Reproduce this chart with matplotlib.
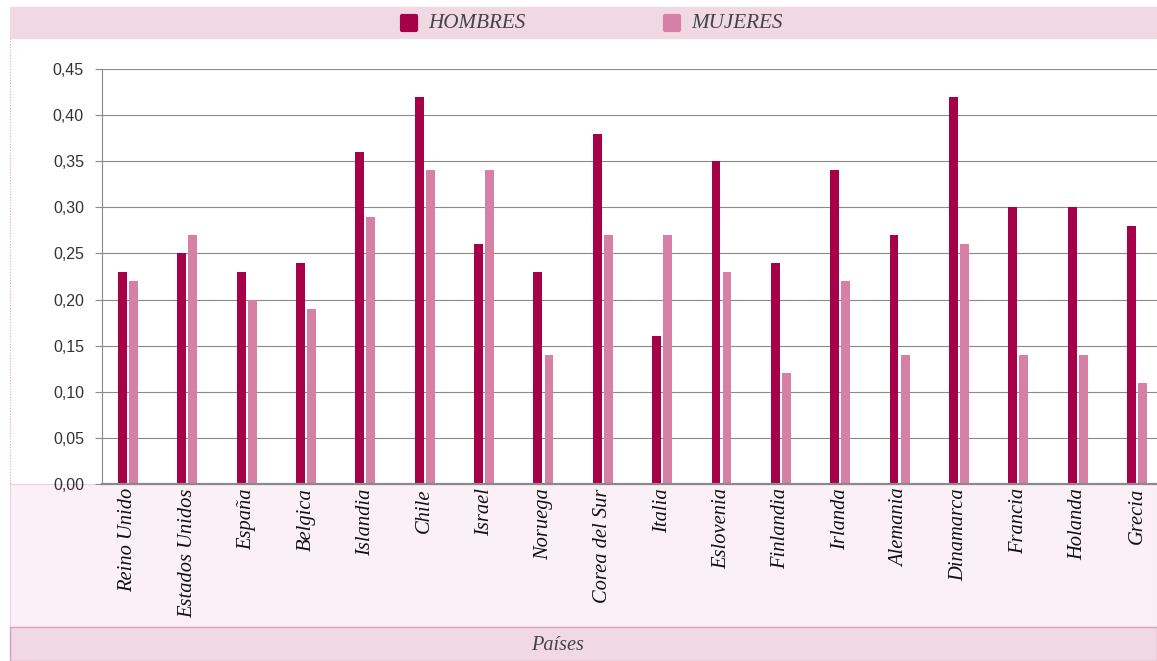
import matplotlib
matplotlib.use("Agg")
import matplotlib.pyplot as plt
import numpy as np
from matplotlib.patches import Rectangle
from matplotlib.lines import Line2D
from matplotlib.markers import MarkerStyle

paises = ["Reino Unido", "Estados Unidos", "España", "Belgica", "Islandia", "Chile",
          "Israel", "Noruega", "Corea del Sur", "Italia", "Eslovenia", "Finlandia",
          "Irlanda", "Alemania", "Dinamarca", "Francia", "Holanda", "Grecia"]
hombres = [0.23, 0.25, 0.23, 0.24, 0.36, 0.42, 0.26, 0.23, 0.38, 0.16,
           0.35, 0.24, 0.34, 0.27, 0.42, 0.30, 0.30, 0.28]
mujeres = [0.22, 0.27, 0.20, 0.19, 0.29, 0.34, 0.34, 0.14, 0.27, 0.27,
           0.23, 0.12, 0.22, 0.14, 0.26, 0.14, 0.14, 0.11]
yticks = np.arange(0, 0.451, 0.05)

C_H = "#a50048"
C_M = "#d580a4"
BAND = "#f0d9e3"
LIGHT = "#faf0f5"
SERIF = "Liberation Serif"

W, H = 1157, 661
fig = plt.figure(figsize=(W / 100, H / 100), dpi=100)


def fx(px):
    return px / W


def fy(py):
    return 1 - py / H


# background bands
fig.add_artist(Rectangle((fx(10), fy(38)), fx(W) - fx(10), fy(7) - fy(38),
                         transform=fig.transFigure, color=BAND, zorder=0))
fig.add_artist(Rectangle((fx(10), fy(627)), 1 - fx(10), fy(484) - fy(627),
                         transform=fig.transFigure, facecolor=LIGHT,
                         edgecolor="#f0d0de", lw=0.8, zorder=0))
fig.add_artist(Rectangle((fx(10), 0), 1 - fx(10), fy(627),
                         transform=fig.transFigure, facecolor=BAND,
                         edgecolor="#d9a0b9", lw=1.0, zorder=0))
fig.add_artist(Line2D([fx(10), fx(10)], [fy(38), fy(484)], transform=fig.transFigure,
                      color="#e8a0bf", lw=0.8, ls=(0, (1, 1.5)), zorder=0))

ax = fig.add_axes([fx(102), fy(484), 1 - fx(102), fy(69) - fy(484)])
ax.patch.set_alpha(0)

x = np.arange(len(paises))
bw = 0.15
ax.bar(x - 0.093, hombres, bw, color=C_H, zorder=3)
ax.bar(x + 0.093, mujeres, bw, color=C_M, zorder=3)

ax.set_xlim(-0.438, 17.338)
ax.set_ylim(0, 0.45)
ax.set_yticks(yticks)
ax.set_yticklabels([f"{v:.2f}".replace(".", ",") for v in yticks],
                   fontsize=11.5, color="#333333", family="Liberation Sans")
ax.yaxis.grid(True, color="#8a8a8a", lw=0.8, zorder=1)
ax.tick_params(axis="y", length=5, width=0.8, color="#8a8a8a", pad=8)

ax.set_xticks(x)
ax.set_xticklabels(paises, rotation=90, fontsize=14.8, family=SERIF,
                   style="italic", color="#111111")
ax.tick_params(axis="x", length=0, pad=3)

for s in ["top", "right"]:
    ax.spines[s].set_visible(False)
ax.spines["left"].set_color("#8a8a8a")
ax.spines["left"].set_linewidth(0.8)
ax.spines["bottom"].set_color("#8a8a8a")
ax.spines["bottom"].set_linewidth(1.6)
ax.spines["bottom"].set_zorder(4)

# legend
mk = MarkerStyle("s", joinstyle="round")
for px, lab, col in [(409, "HOMBRES", C_H), (672, "MUJERES", C_M)]:
    fig.add_artist(Line2D([fx(px)], [fy(23)], transform=fig.transFigure, marker=mk,
                          markersize=10, markeredgewidth=3, color=col,
                          markerfacecolor=col, markeredgecolor=col))
    fig.text(fx(px + 19), fy(23), lab, fontsize=15.2, family=SERIF, style="italic",
             color="#444444", va="center", ha="left")

fig.text(fx(558), fy(646), "Países", fontsize=14.6, family=SERIF, style="italic",
         color="#444444", va="center", ha="center")

fig.savefig("out.png", dpi=100)
